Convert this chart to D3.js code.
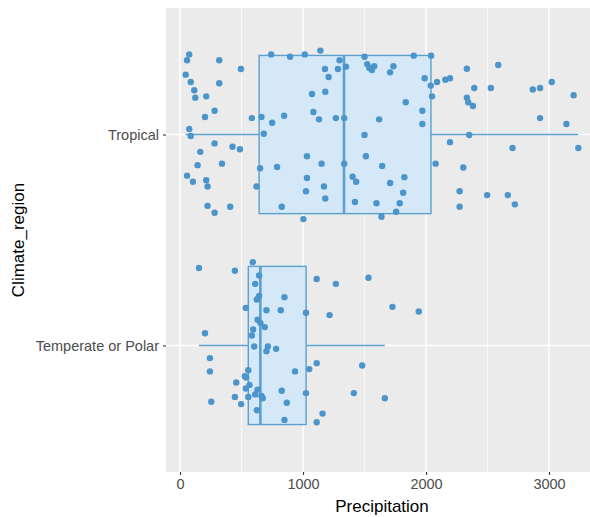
<!DOCTYPE html>
<html><head><meta charset="utf-8">
<script src="https://cdn.jsdelivr.net/npm/d3@7"></script>
<style>body{margin:0;background:#fff}svg{display:block}text{font-family:"Liberation Sans",Arial,sans-serif}</style>
</head><body>
<script>
const categories = ["Tropical", "Temperate or Polar"];
const xTicks = [0, 1000, 2000, 3000];
const xMinor = [500, 1500, 2500];
// box stats: [whiskerLow, Q1, median, Q3, whiskerHigh]
const boxTropical = [46, 643, 1333, 2040, 3238];
const boxTemperate = [154, 555, 653, 1025, 1665];
// jittered points: precipitation values and vertical jitter (category units)
const tropicalValues = [75,57,319,46,495,87,319,116,124,213,281,203,584,662,749,846,75,87,681,281,165,427,487,143,341,57,105,213,224,651,789,622,224,281,408,827,1003,1032,1151,1032,1170,1024,1181,1073,1181,1084,1130,1267,1335,1178,1208,1284,1297,1349,741,895,1014,1141,1500,1522,1538,1560,1579,1619,1500,1511,1335,1403,1432,1422,1597,1638,1643,1735,1708,1900,2041,1989,2038,2089,2157,2195,2049,1835,1970,1970,2332,2587,2392,2527,2868,2927,3022,3200,2332,2343,2381,2927,3141,2351,2195,2703,3238,2078,2303,1824,1708,1814,2273,2497,2665,2722,1786,1757,2273];
const tropicalJitter = [-0.380,-0.352,-0.352,-0.284,-0.311,-0.249,-0.243,-0.210,-0.175,-0.181,-0.113,-0.083,-0.078,-0.083,-0.056,-0.089,-0.026,0.007,-0.004,0.042,0.082,0.058,0.070,0.145,0.138,0.195,0.224,0.217,0.246,0.160,0.154,0.246,0.338,0.371,0.342,0.342,0.401,0.103,0.138,0.206,0.246,0.269,0.303,-0.192,-0.203,-0.107,-0.072,-0.078,-0.078,-0.311,-0.273,-0.311,-0.352,-0.322,-0.380,-0.369,-0.380,-0.398,-0.369,-0.334,-0.317,-0.306,-0.324,-0.072,0.002,0.103,0.138,0.200,0.224,0.320,0.326,0.390,0.149,-0.324,-0.295,-0.374,-0.374,-0.267,-0.232,-0.249,-0.260,-0.267,-0.181,-0.153,-0.113,-0.050,-0.312,-0.330,-0.221,-0.221,-0.214,-0.221,-0.249,-0.186,-0.175,-0.153,-0.135,-0.078,-0.050,0.002,0.036,0.064,0.064,0.138,0.156,0.202,0.230,0.276,0.269,0.287,0.287,0.331,0.326,0.366,0.342];
const temperateValues = [154,446,592,643,611,643,624,849,535,703,819,1024,1111,1267,1532,1216,1727,1941,630,654,689,595,584,203,603,714,703,781,243,243,555,935,1051,1111,1481,527,538,457,565,535,630,611,662,673,555,446,827,1024,1413,1665,254,497,868,624,1159,849,1111];
const temperateJitter = [-0.367,-0.354,-0.395,-0.332,-0.292,-0.235,-0.218,-0.229,-0.178,-0.167,-0.167,-0.155,-0.315,-0.292,-0.321,-0.144,-0.183,-0.161,-0.122,-0.106,-0.087,-0.076,-0.047,-0.058,0.005,0.005,0.027,0.016,0.060,0.123,0.117,0.123,0.112,0.084,0.095,0.146,0.152,0.176,0.187,0.204,0.210,0.232,0.239,0.250,0.244,0.244,0.215,0.226,0.226,0.250,0.267,0.278,0.272,0.307,0.323,0.353,0.364];

const W = 590, H = 517;
const panel = {left: 166, top: 8, right: 598, bottom: 472};
const svg = d3.select("body").append("svg").attr("width", W).attr("height", H);

const x = d3.scaleLinear().domain([-114, 3398]).range([panel.left, panel.right]);
const y = d3.scaleLinear().domain([-0.6, 1.6]).range([panel.top, panel.bottom]);

svg.append("rect").attr("x", panel.left).attr("y", panel.top)
  .attr("width", panel.right - panel.left).attr("height", panel.bottom - panel.top).attr("fill", "#EBEBEB");

const g = svg.append("g");
g.selectAll(".minor").data(xMinor).join("line")
  .attr("x1", d => x(d)).attr("x2", d => x(d)).attr("y1", panel.top).attr("y2", panel.bottom)
  .attr("stroke", "#fff").attr("stroke-width", 0.7);
g.selectAll(".major").data(xTicks).join("line")
  .attr("x1", d => x(d)).attr("x2", d => x(d)).attr("y1", panel.top).attr("y2", panel.bottom)
  .attr("stroke", "#fff").attr("stroke-width", 1.4);
g.selectAll(".hmajor").data(categories).join("line")
  .attr("x1", panel.left).attr("x2", panel.right).attr("y1", (d, i) => y(i)).attr("y2", (d, i) => y(i))
  .attr("stroke", "#fff").attr("stroke-width", 1.4);

const stroke = "#5CA0D0", fill = "#D5E8F7", pointColor = "#4C95CA";
const boxes = [boxTropical, boxTemperate];
boxes.forEach((b, i) => {
  const cy = y(i), hw = (y(0.375) - y(0));
  g.append("line").attr("x1", x(b[0])).attr("x2", x(b[1])).attr("y1", cy).attr("y2", cy).attr("stroke", stroke).attr("stroke-width", 1.4);
  g.append("line").attr("x1", x(b[3])).attr("x2", x(b[4])).attr("y1", cy).attr("y2", cy).attr("stroke", stroke).attr("stroke-width", 1.4);
  g.append("rect").attr("x", x(b[1])).attr("y", cy - hw).attr("width", x(b[3]) - x(b[1])).attr("height", 2 * hw)
    .attr("fill", fill).attr("stroke", stroke).attr("stroke-width", 1.4);
  g.append("line").attr("x1", x(b[2])).attr("x2", x(b[2])).attr("y1", cy - hw).attr("y2", cy + hw).attr("stroke", stroke).attr("stroke-width", 2.6);
});

const pts = [];
tropicalValues.forEach((v, k) => pts.push({v, c: 0, j: tropicalJitter[k]}));
temperateValues.forEach((v, k) => pts.push({v, c: 1, j: temperateJitter[k]}));
g.selectAll("circle").data(pts).join("circle")
  .attr("cx", d => x(d.v)).attr("cy", d => y(d.c + d.j)).attr("r", 3.2).attr("fill", pointColor);

// axes
const xa = svg.append("g").attr("transform", `translate(0,${panel.bottom})`)
  .call(d3.axisBottom(x).tickValues(xTicks).tickSize(3).tickPadding(4).tickFormat(d3.format("d")));
xa.select(".domain").remove();
xa.selectAll(".tick line").attr("stroke", "#333").attr("stroke-width", 1.1);
xa.selectAll("text").attr("fill", "#4D4D4D").attr("font-size", 14.5).attr("font-family", "Liberation Sans, Arial, sans-serif");

const ya = svg.append("g").attr("transform", `translate(${panel.left},0)`)
  .call(d3.axisLeft(y).tickValues([0, 1]).tickSize(3).tickPadding(4).tickFormat((d) => categories[d]));
ya.select(".domain").remove();
ya.selectAll(".tick line").attr("stroke", "#333").attr("stroke-width", 1.1);
ya.selectAll("text").attr("fill", "#4D4D4D").attr("font-size", 14.5).attr("font-family", "Liberation Sans, Arial, sans-serif");

svg.append("text").attr("x", (panel.left + panel.right) / 2).attr("y", 512).attr("text-anchor", "middle")
  .attr("font-size", 17).attr("fill", "#000").text("Precipitation");
svg.append("text").attr("transform", `translate(24,${(panel.top + panel.bottom) / 2}) rotate(-90)`)
  .attr("text-anchor", "middle").attr("font-size", 17).attr("fill", "#000").text("Climate_region");
</script>
</body></html>
